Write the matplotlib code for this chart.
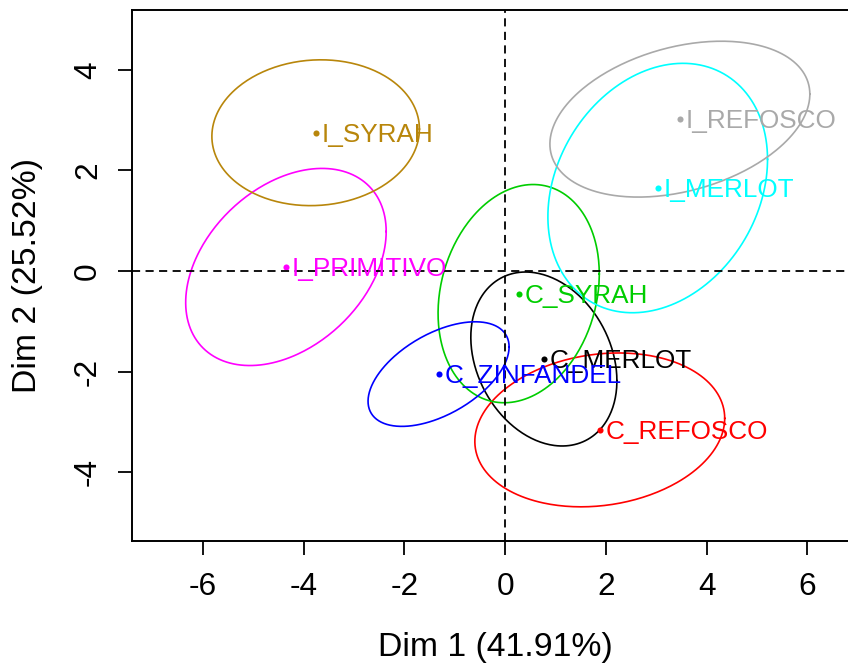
import numpy as np
import matplotlib.pyplot as plt

plt.rcParams['font.family'] = ['Liberation Sans', 'DejaVu Sans']
plt.rcParams['axes.unicode_minus'] = False

groups = ['C_MERLOT', 'C_REFOSCO', 'C_SYRAH', 'C_ZINFANDEL',
          'I_MERLOT', 'I_PRIMITIVO', 'I_REFOSCO', 'I_SYRAH']
dim1 = [0.77, 1.88, 0.27, -1.32, 3.03, -4.35, 3.47, -3.76]
dim2 = [-1.75, -3.16, -0.45, -2.05, 1.65, 0.08, 3.02, 2.75]
# confidence ellipses: half extent along each dim and correlation
half_x = [1.45, 2.48, 1.60, 1.40, 2.18, 1.99, 2.58, 2.06]
half_y = [1.73, 1.53, 2.17, 1.04, 2.48, 1.96, 1.55, 1.45]
corr = [-0.25, 0.15, 0.18, 0.52, 0.23, 0.36, 0.32, 0.05]
colors = ['black', 'red', '#00CD00', 'blue', 'cyan', 'magenta', '#A9A9A9', '#B8860B']

fig = plt.figure(figsize=(8.48, 6.69), dpi=100)
ax = fig.add_axes([0.156, 0.1913, 0.8792, 0.7937])

t = np.linspace(0, 2 * np.pi, 300)
for i in range(len(groups)):
    ex = dim1[i] + half_x[i] * np.cos(t)
    ey = dim2[i] + half_y[i] * (corr[i] * np.cos(t) + np.sqrt(1 - corr[i] ** 2) * np.sin(t))
    ax.plot(ex, ey, color=colors[i], lw=1.2)
    ax.plot(dim1[i], dim2[i], 'o', color=colors[i], ms=4.4, mec='none')
    ax.annotate(groups[i], (dim1[i], dim2[i]), xytext=(6, -9),
                textcoords='offset pixels', ha='left', va='baseline',
                color=colors[i], fontsize=18.8)

ax.axhline(0, color='black', lw=1.3, ls=(0, (4.5, 3)))
ax.axvline(0, color='black', lw=1.3, ls=(0, (4.5, 3)))

ax.set_xlim(-7.40, 7.40)
ax.set_ylim(-5.37, 5.19)
ax.set_xticks([-6, -4, -2, 0, 2, 4, 6])
ax.set_yticks([-4, -2, 0, 2, 4])
ax.tick_params(direction='out', length=9.8, width=1.3, labelsize=22.8, pad=12.5)
ax.tick_params(axis='y', pad=11.3)
for lab in ax.get_yticklabels():
    lab.set_rotation(90)
    lab.set_va('center')

for s in ax.spines.values():
    s.set_linewidth(1.4)
ax.spines['right'].set_visible(False)

ax.set_xlabel('Dim 1 (41.91%)', fontsize=24.3, va='center')
ax.xaxis.set_label_coords(0.4865, -0.1996)
ax.set_ylabel('Dim 2 (25.52%)', fontsize=24.3, va='center')
ax.yaxis.set_label_coords(-0.14, 0.5)

fig.savefig('out.png', dpi=100)
